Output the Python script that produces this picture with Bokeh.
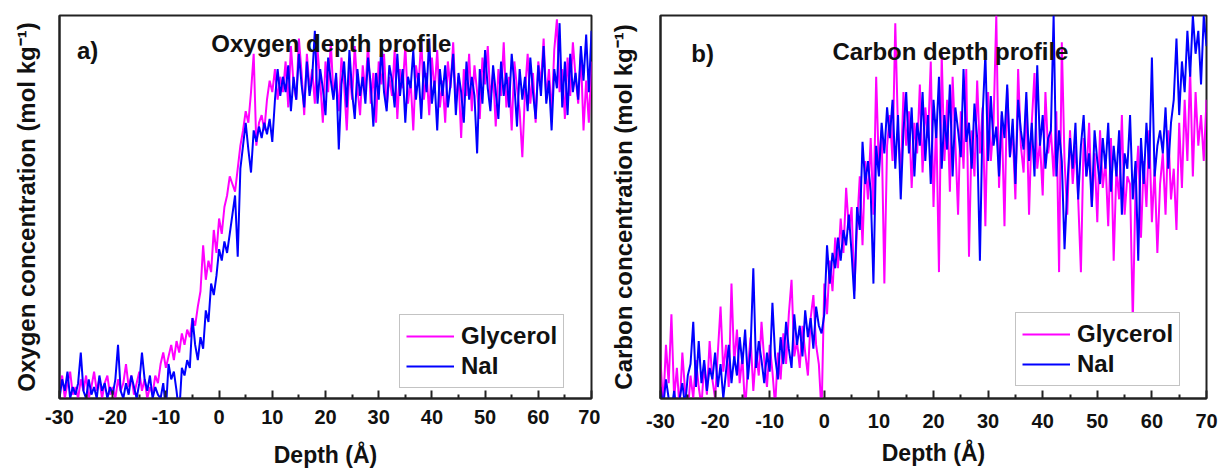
import numpy as np
from bokeh.plotting import figure
from bokeh.layouts import row
from bokeh.models import Label, Legend, LegendItem, Range1d, FixedTicker
from bokeh.embed import file_html
from bokeh.resources import INLINE

# Depth grid (Angstrom), 0.5 A step
depth = np.arange(-30, 70.01, 0.5)

# Oxygen depth profile (relative concentration, % of plotted range)
oxy_glycerol = [
    2, 6, 0, 4, 7, 1, 3, 0, 5, 2, 6, 0, 3, 7, 2, 5, 0, 4, 6, 1,
    3, 0, 5, 2, 4, 9, 3, 6, 1, 4, 7, 2, 5, 0, 3, 1, 6,
    4, 9, 12, 8, 11, 14, 10, 15, 12, 17, 14, 18, 16, 21, 19, 24, 28, 40, 31, 36,
    33, 44, 38, 47, 43, 50, 53, 58, 56, 54, 60, 66, 70, 75, 72, 80, 90, 66, 72, 74,
    70, 78, 83, 80, 86, 78, 84, 80,
    88, 76, 92, 82, 78, 94, 85, 74, 90, 81,
    86, 77, 91, 83, 72, 88, 80, 93, 79, 84,
    75, 89, 82, 70, 86, 78, 92, 81, 74, 87,
    80, 93, 77, 85, 72, 88, 82, 90, 76, 84,
    79, 91, 73, 86, 81, 92, 77, 83, 70, 87,
    82, 94, 78, 85, 74, 89, 80, 91, 76, 83,
    72, 88, 81, 93, 77, 84, 68, 86, 79, 90,
    75, 87, 80, 73, 89, 82, 92, 78, 85, 71,
    86, 79, 93, 76, 84, 70, 88, 81, 75, 63,
    80, 90, 77, 85, 72, 88, 82, 94, 78, 86,
    74, 91, 99, 80, 86, 73, 89, 79, 93, 84,
    77, 90, 70, 83, 72, 88,
]
oxy_nai = [
    0, 5, 2, 7, 0, 3, 1, 4, 12, 2, 0, 5, 1, 3, 0, 6, 2, 4, 0, 3,
    1, 5, 14, 2, 0, 4, 1, 6, 3, 0, 4, 12, 5, 2, 6, 0, 3,
    1, 0, 4, -3, 9, 5, 7, 2, -4, 8,
    6, 10, 8, 21, 14, 10, 16, 13, 23, 20,
    30, 27, 32, 39, 36, 41, 38, 43, 48, 53,
    37, 60, 66, 72, 65, 59, 70, 67, 71, 68,
    72, 69, 73, 67, 78, 86, 79, 84,
    80, 87, 75, 84, 78, 90, 82, 76, 88, 79,
    84, 96, 77, 86, 81, 74, 89, 83, 78, 85,
    65, 82, 88, 76, 91, 80, 73, 86, 79, 84,
    77, 89, 82, 71, 85, 78, 92, 80, 75, 87,
    83, 76, 90, 79, 86, 72, 84, 81, 91, 78,
    85, 73, 88, 80, 94, 77, 83, 70, 86, 79,
    87, 76, 82, 90, 74, 85, 80, 72, 88, 78,
    84, 79, 64, 86, 77, 91, 81, 75, 87, 80,
    73, 88, 79, 85, 76, 90, 82, 71, 86, 78,
    84, 75, 89, 80, 73, 87, 79, 92, 77, 83,
    70, 86, 81, 98, 76, 88, 74, 90, 80, 85,
    78, 92, 83, 95, 80, 96,
]

# Carbon depth profile (relative concentration, % of plotted range)
carb_glycerol = [
    10, -2, 14, 4, 22, 0, 8, -3, 12, 2,
    -4, 6, 0, 10, 3, -2, 9, 1, 15, 5,
    0, 12, 24, 7, 14, 3, 30, 9, 18, 4,
    11, -3, 8, 16, 2, 12, 6, 20, 10, 3,
    14, 7, -2, 12, 5, 17, 9, 22, 31, 11,
    15, 8, 19, 12, 6, 21, 27, 14, 9, -4,
    30, 22, 36, 28, 42, 34, 47, 38, 55, 44, 50, 28,
    45, 58, 40, 62, 52, 68, 48, 84, 60, 70, 30, 66,
    74, 62, 98, 70, 58, 80, 66, 75, 55, 72,
    64, 82, 59, 76, 68, 88, 50, 73, 33, 90,
    62, 78, 54, 84, 67, 48, 75, 60, 86, 37,
    70, 58, 83, 64, 76, 45, 80, 62, 72, 100,
    55, 74, 45, 81, 63, 70, 52, 86, 66, 59,
    78, 48, 72, 85, 60, 67, 53, 80, 64, 70,
    58, 75, 33, 93, 62, 48, 70, 56, 66, 52,
    33, 68, 58, 72, 50, 64, 46, 70, 55, 62,
    45, 68, 36, 60, 52, 74, 48, 58, 56, 20,
    55, 66, 42, 62, 50, 70, 46, 60, 38, 56,
    64, 48, 70, 52, 60, 44, 72, 55, 78, 62,
    86, 58, 80, 66, 74, 62, 78,
]
carb_nai = [
    3, -2, 5, 0, -3, 2, -4, 0, 4, -2,
    6, 9, 20, 3, 15, 4, 10, 2, 8, 5,
    12, 3, 9, 0, 7, 14, 4, 11, 6, 16,
    9, 18, 5, 13, 34, 8, 15, 10, 4, 12,
    7, 25, 11, 5, 16, 9, 20, 13, 8, 22,
    14, 19, 11, 23, 16, 21, 13, 24, 19, 17,
    22, 40, 30, 38, 34, 42, 36, 44, 40, 48, 38, 26,
    50, 44, 67, 56, 62, 54, 30, 66, 58, 72, 64, 76,
    68, 78, 60, 74, 52, 70, 80, 64, 76, 58,
    72, 66, 80, 62, 74, 56, 78, 68, 84, 60,
    74, 65, 82, 58, 76, 70, 63, 86, 67, 72,
    60, 77, 68, 36, 74, 90, 62, 79, 66, 71,
    58, 75, 68, 82, 63, 73, 56, 78, 70, 65,
    80, 62, 72, 58, 87, 66, 74, 60, 68, 70,
    100, 58, 70, 62, 39, 55, 68, 60, 72, 52,
    66, 74, 58, 64, 50, 70, 62, 56, 68, 60,
    72, 54, 66, 58, 70, 48, 64, 60, 74, 52,
    62, 36, 68, 56, 72, 60, 89, 58, 66, 70,
    64, 76, 60, 72, 78, 94, 74, 88, 80, 96,
    84, 100, 90, 96, 82, 100, 92,
]

x_ticks = [-30, -20, -10, 0, 10, 20, 30, 40, 50, 60, 70]
x_tick_labels = ["-30", "-20", "-10", "0", "10", "20", "30", "40", "50", "60", "70"]
series_names = ["Glycerol", "NaI"]
series_colors = ["#ff00ff", "#0000ff"]
x_title = "Depth (Å)"

FONT = "Liberation Sans"


def make_panel(width, border_left, border_right, border_top, border_bottom,
               ylabel, ylabel_standoff, tick_standoff, xlabel_standoff, ys,
               tag, tag_x, tag_y, title, title_x, title_y, legend_loc):
    p = figure(width=width, height=470, output_backend="svg", toolbar_location=None,
               min_border_left=border_left, min_border_right=border_right,
               min_border_top=border_top, min_border_bottom=border_bottom)
    p.x_range = Range1d(-30, 70)
    p.y_range = Range1d(0, 100)
    p.grid.visible = False
    p.outline_line_color = "#222222"
    p.outline_line_width = 2
    p.outline_line_alpha = 1

    items = []
    for ydata, name, col in zip(ys, series_names, series_colors):
        r = p.line(depth, ydata, line_color=col, line_width=2)
        items.append(LegendItem(label=name, renderers=[r]))

    xa = p.xaxis[0]
    xa.ticker = FixedTicker(ticks=x_ticks, minor_ticks=list(range(-25, 70, 10)))
    xa.major_label_overrides = {t: s for t, s in zip(x_ticks, x_tick_labels)}
    xa.major_tick_in = 8
    xa.major_tick_out = 0
    xa.minor_tick_in = 4
    xa.minor_tick_out = 0
    xa.major_tick_line_color = "#222222"
    xa.minor_tick_line_color = "#222222"
    xa.major_tick_line_width = 2
    xa.minor_tick_line_width = 2
    xa.axis_line_color = "#222222"
    xa.axis_line_width = 2
    xa.major_label_text_font = FONT
    xa.major_label_text_font_style = "bold"
    xa.major_label_text_font_size = "20px"
    xa.major_label_text_color = "#111111"
    xa.major_label_standoff = tick_standoff
    xa.axis_label = x_title
    xa.axis_label_text_font = FONT
    xa.axis_label_text_font_style = "bold"
    xa.axis_label_text_font_size = "23px"
    xa.axis_label_text_color = "#111111"
    xa.axis_label_standoff = xlabel_standoff

    ya = p.yaxis[0]
    ya.ticker = FixedTicker(ticks=[])
    ya.major_tick_out = 0
    ya.major_tick_in = 0
    ya.major_label_standoff = 0
    ya.axis_line_color = "#222222"
    ya.axis_line_width = 2
    ya.axis_label = ylabel
    ya.axis_label_text_font = FONT
    ya.axis_label_text_font_style = "bold"
    ya.axis_label_text_font_size = "24px"
    ya.axis_label_text_color = "#111111"
    ya.axis_label_standoff = ylabel_standoff

    p.add_layout(Label(x=tag_x, y=tag_y, text=tag, text_font=FONT, text_font_style="bold",
                       text_font_size="24px", text_align="center", text_baseline="alphabetic",
                       text_color="#111111"))
    p.add_layout(Label(x=title_x, y=title_y, text=title, text_font=FONT, text_font_style="bold",
                       text_font_size="24px", text_align="center", text_baseline="alphabetic",
                       text_color="#111111"))

    leg = Legend(items=items, location=legend_loc, orientation="vertical")
    leg.label_text_font = FONT
    leg.label_text_font_style = "bold"
    leg.label_text_font_size = "24px"
    leg.label_text_color = "#111111"
    leg.glyph_width = 48
    leg.glyph_height = 30
    leg.label_height = 30
    leg.label_standoff = 7
    leg.padding = 6
    leg.spacing = 0
    leg.margin = 0
    leg.border_line_color = "#888888"
    leg.border_line_width = 1.5
    leg.background_fill_alpha = 1
    p.add_layout(leg, "center")
    return p


p1 = make_panel(600, 59, 9, 15, 71,
                "Oxygen concentration (mol kg⁻¹)", 20, 11, 15,
                [oxy_glycerol, oxy_nai], "a)", -24.7, 90.9,
                "Oxygen depth profile", 21.1, 92.7, (340, 10))
p2 = make_panel(620, 60, 14, 14, 67,
                "Carbon concentration (mol kg⁻¹)", 24, 15, 9,
                [carb_glycerol, carb_nai], "b)", -22.3, 90.2,
                "Carbon depth profile", 23.1, 90.7, (355, 12))

layout = row(p1, p2)
open("out.html", "w").write(file_html(layout, INLINE))
